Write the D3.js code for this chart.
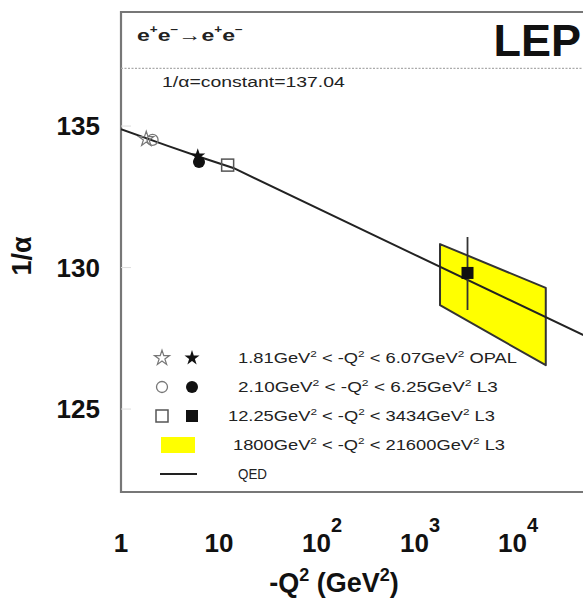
<!DOCTYPE html>
<html><head><meta charset="utf-8">
<script src="https://cdn.jsdelivr.net/npm/d3@7"></script>
<style>body{margin:0;background:#fff}svg{display:block;font-family:"Liberation Sans",Arial,sans-serif}</style>
</head><body>
<svg id="c" width="583" height="601"></svg>
<script>
// QED running curve (Q^2 in GeV^2, 1/alpha)
const qedQ2 = [1, 3, 6.5, 14, 1000, 60000];
const qedInv = [134.89, 134.30, 133.90, 133.52, 130.45, 127.52];
// measurement points
const pointNames = ["openStar","filledStar","openCircle","filledCircle","openSquare","filledSquare"];
const pointQ2 = [1.81, 6.07, 2.10, 6.25, 12.25, 3434];
const pointInv = [134.54, 133.94, 134.51, 133.73, 133.62, 129.81];
const errLow = [null, null, null, null, null, 128.50];
const errHigh = [null, null, null, null, null, 131.08];
// L3 high-Q2 band: [Q2, lower, upper]
const bandQ2 = [1800, 21600];
const bandLow = [128.67, 126.55];
const bandHigh = [130.83, 129.28];
const constInv = 137.04;
const yTicks = [125, 130, 135];
const xTicks = [1, 10, 100, 1000, 10000];
const legendLabels = [
  [["1.81GeV",""],["2",true],[" < -Q",""],["2",true],[" < 6.07GeV",""],["2",true],[" OPAL",""]],
  [["2.10GeV",""],["2",true],[" < -Q",""],["2",true],[" < 6.25GeV",""],["2",true],[" L3",""]],
  [["12.25GeV",""],["2",true],[" < -Q",""],["2",true],[" < 3434GeV",""],["2",true],[" L3",""]],
  [["1800GeV",""],["2",true],[" < -Q",""],["2",true],[" < 21600GeV",""],["2",true],[" L3",""]],
  [["QED",""]]
];

const svg = d3.select("#c");
const L = 121, T = 12, B = 492;
const x = d3.scaleLog().domain([1, 60000]).range([L, L + 98 * Math.log10(60000)]);
const y = d3.scaleLinear().domain([122.07, 139.03]).range([B, T]);

function stretch(t, x0, target) {
  const w = t.node().getComputedTextLength();
  const s = target / w;
  t.attr("transform", `translate(${x0},0) scale(${s},1) translate(${-x0},0)`);
}

svg.append("clipPath").attr("id","pc").append("rect")
  .attr("x", L).attr("y", T).attr("width", 583 - L).attr("height", B - T);

// frame
svg.append("path").attr("d", `M583,${T}H${L}V${B}H583`).attr("fill","none")
  .attr("stroke","#777").attr("stroke-width",2.2);

// faint ticks inside frame
yTicks.forEach(v => svg.append("line").attr("x1",L).attr("x2",L+10).attr("y1",y(v)).attr("y2",y(v))
  .attr("stroke","#ddd").attr("stroke-width",1));

// constant line
svg.append("line").attr("x1",L).attr("x2",583).attr("y1",y(constInv)).attr("y2",y(constInv))
  .attr("stroke","#aaa").attr("stroke-width",1.2).attr("stroke-dasharray","2,1.5");

const g = svg.append("g").attr("clip-path","url(#pc)");

// band
const bandPts = [[bandQ2[0],bandHigh[0]],[bandQ2[1],bandHigh[1]],[bandQ2[1],bandLow[1]],[bandQ2[0],bandLow[0]]];
g.append("polygon").attr("points", bandPts.map(d => [x(d[0]), y(d[1])].join(",")).join(" "))
  .attr("fill","#ffff00").attr("stroke","#333").attr("stroke-width",2).attr("stroke-linejoin","round");

// QED line
const line = d3.line().x(d => x(d[0])).y(d => y(d[1]));
g.append("path").datum(qedQ2.map((q,i)=>[q,qedInv[i]])).attr("d", line)
  .attr("fill","none").attr("stroke","#222").attr("stroke-width",2).attr("stroke-linejoin","round");

// error bars
pointQ2.forEach((q,i) => {
  if (errLow[i] != null) g.append("line").attr("x1",x(q)).attr("x2",x(q))
    .attr("y1",y(errLow[i])).attr("y2",y(errHigh[i])).attr("stroke","#333").attr("stroke-width",1.8);
});

function marker(sel, name, cx, cy) {
  const star = d3.symbol().type(d3.symbolStar).size(70)();
  if (name === "openStar") sel.append("path").attr("d", star).attr("transform",`translate(${cx},${cy})`).attr("fill","none").attr("stroke","#777").attr("stroke-width",1.2);
  if (name === "filledStar") sel.append("path").attr("d", star).attr("transform",`translate(${cx},${cy})`).attr("fill","#111");
  if (name === "openCircle") sel.append("circle").attr("cx",cx).attr("cy",cy).attr("r",5.5).attr("fill","none").attr("stroke","#777").attr("stroke-width",1.3);
  if (name === "filledCircle") sel.append("circle").attr("cx",cx).attr("cy",cy).attr("r",6).attr("fill","#111");
  if (name === "openSquare") sel.append("rect").attr("x",cx-6).attr("y",cy-6).attr("width",12).attr("height",12).attr("fill","none").attr("stroke","#555").attr("stroke-width",1.5);
  if (name === "filledSquare") sel.append("rect").attr("x",cx-6).attr("y",cy-6).attr("width",12).attr("height",12).attr("fill","#111");
}
const drawOrder = [2,0,4,3,1,5];
drawOrder.forEach(i => marker(g, pointNames[i], x(pointQ2[i]), y(pointInv[i])));

// y tick labels
yTicks.forEach(v => svg.append("text").attr("x",100).attr("y",y(v)+9).attr("text-anchor","end")
  .attr("font-size",26).attr("font-weight","bold").attr("fill","#111").text(v));

// x tick labels
xTicks.forEach(v => {
  const e = Math.round(Math.log10(v));
  const t = svg.append("text").attr("y",552).attr("font-size",26).attr("font-weight","bold").attr("fill","#111");
  if (e <= 1) { t.attr("x", x(v)).attr("text-anchor","middle").text(String(v)); }
  else {
    t.attr("x", x(v) - 15).append("tspan").text("10");
    t.append("tspan").attr("dy",-20).attr("font-size",20).text(String(e));
  }
});

// axis titles
const xt = svg.append("text").attr("x",334).attr("y",592).attr("text-anchor","middle")
  .attr("font-size",27).attr("font-weight","bold").attr("fill","#111");
xt.append("tspan").text("-Q");
xt.append("tspan").attr("dy",-11).attr("font-size",18).text("2");
xt.append("tspan").attr("dy",11).text(" (GeV");
xt.append("tspan").attr("dy",-11).attr("font-size",18).text("2");
xt.append("tspan").attr("dy",11).text(")");

svg.append("text").attr("transform","translate(31,256) rotate(-90)").attr("text-anchor","middle")
  .attr("font-size",27).attr("font-weight","bold").attr("fill","#111").text("1/α");

// header
const h = svg.append("text").attr("x",137).attr("y",41).attr("font-size",17).attr("font-weight","bold").attr("fill","#222");
h.append("tspan").text("e"); h.append("tspan").attr("dy",-8).attr("font-size",10).text("+");
h.append("tspan").attr("dy",8).text("e"); h.append("tspan").attr("dy",-8).attr("font-size",10).text("−");
h.append("tspan").attr("dy",8).text("→e"); h.append("tspan").attr("dy",-8).attr("font-size",10).text("+");
h.append("tspan").attr("dy",8).text("e"); h.append("tspan").attr("dy",-8).attr("font-size",10).text("−");
stretch(h, 137, 106);

svg.append("text").attr("x",581).attr("y",56).attr("text-anchor","end").attr("font-size",45)
  .attr("font-weight","bold").attr("fill","#111").text("LEP");

const ct = svg.append("text").attr("x",162).attr("y",87).attr("font-size",14).attr("fill","#222").text("1/α=constant=137.04");
stretch(ct, 162, 183);

// legend
const legY = [358, 387, 416, 445, 474];
const legX = [238, 238, 228, 233, 238];
const legW = [279, 260, 267, 272, 29];
marker(svg, "openStar", 162, legY[0]); marker(svg, "filledStar", 192, legY[0]);
marker(svg, "openCircle", 162, legY[1]); marker(svg, "filledCircle", 192, legY[1]);
marker(svg, "openSquare", 162, legY[2]); marker(svg, "filledSquare", 192, legY[2]);
svg.append("rect").attr("x",161).attr("y",legY[3]-8).attr("width",34).attr("height",16).attr("fill","#ffff00");
svg.append("line").attr("x1",160).attr("x2",197).attr("y1",legY[4]).attr("y2",legY[4]).attr("stroke","#222").attr("stroke-width",1.8);

legendLabels.forEach((parts,i) => {
  const t = svg.append("text").attr("x",legX[i]).attr("y",legY[i]+5).attr("font-size",14).attr("fill","#222");
  let up = false;
  parts.forEach(([s,sup]) => {
    const ts = t.append("tspan").text(s);
    if (sup && !up) { ts.attr("dy",-6).attr("font-size",9); up = true; }
    else if (!sup && up) { ts.attr("dy",6); up = false; }
  });
  stretch(t, legX[i], legW[i]);
});
</script>
</body></html>
